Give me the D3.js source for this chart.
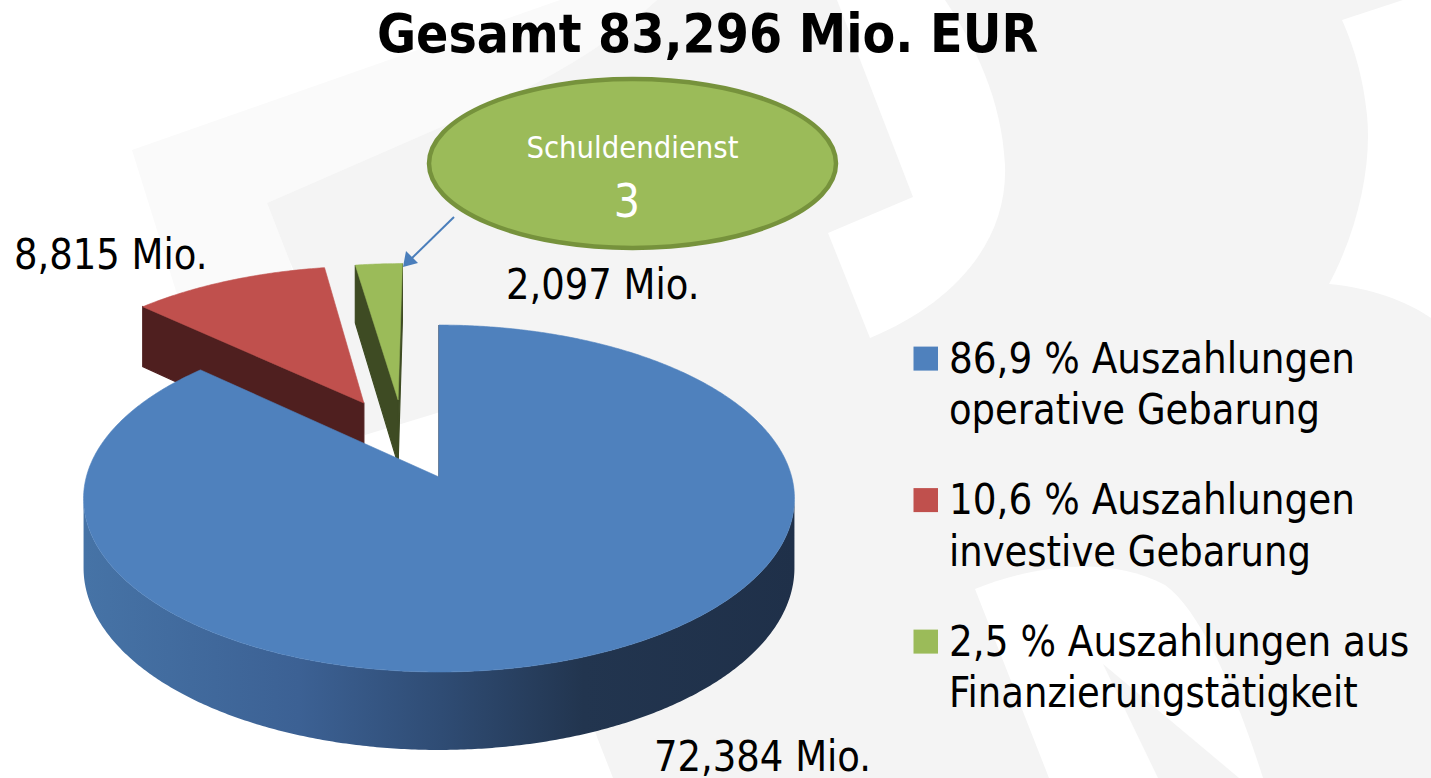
<!DOCTYPE html>
<html>
<head>
<meta charset="utf-8">
<script src="https://cdn.jsdelivr.net/npm/d3@7/dist/d3.min.js"></script>
<style>
  html, body { margin: 0; padding: 0; background: #fff; }
  svg { display: block; }
  text { font-family: "DejaVu Sans", Verdana, sans-serif; }
</style>
</head>
<body>
<svg id="chart" width="1431" height="778"></svg>
<script>
// --- data ---
const categories = [
  ['Auszahlungen', 'operative Gebarung'],
  ['Auszahlungen', 'investive Gebarung'],
  ['Auszahlungen aus', 'Finanzierungstätigkeit']
]
const values = [72.384, 8.815, 2.097] // Mio. EUR
const calloutLines = ['Schuldendienst', '3']

// --- style ---
const colors = ['#4f81bd', '#c0504d', '#9bbb59']
const cutColors = ['#1f3049', '#4f1f1f', '#3e4b23']
const explode = [{ r: 0, dir: 0 }, { r: 0.51, dir: 333.8 }, { r: 0.494, dir: 345.6 }]
const labelAt = [{ x: 654, y: 771 }, { x: 14, y: 269 }, { x: 506, y: 299 }]
const pie3d = { cx: 439, cy: 477, rx: 352.7, ry: 170.8, k: 0.124, h: 68.3 }

const de = d3.formatLocale({ decimal: ',', thousands: '.', grouping: [3], currency: ['', ' €'] })
const fmtMio = de.format('.3f')
const fmtPct = de.format('.1f')
const total = d3.sum(values)

const W = 1431
const H = 778
const svg = d3.select('#chart')

const condense = (sel, ratio) => {
  sel.each(function () {
    const w = this.getComputedTextLength()
    d3.select(this).attr('textLength', w * ratio).attr('lengthAdjust', 'spacingAndGlyphs')
  })
}

// --- background watermark ---
const bg = svg.append('g')
bg.append('rect').attr('width', W).attr('height', H).attr('fill', '#ffffff')
bg.append('path').attr('fill', '#fafafa')
  .attr('d', 'M132,150 L560,0 L657,0 Q590,62 480,110 L267,203 L290,262 L300,300 L185,320 Z')
bg.append('path').attr('fill', '#f4f4f4')
  .attr('d', 'M267,203 L480,110 Q590,62 657,0 L1431,0 L1431,778 L613,778 L597,737 L540,560 L500,394 L437,413 L365,435 L290,262 Z')
const whiteShapes = [
  'M837,0 L913,197 L828,233 L870,338 C950,305 1008,245 1005,165 C1002,100 975,45 945,0 Z',
  'M1342,20 L1403,0 L1431,0 L1431,318 C1405,300 1370,288 1329,284 C1358,230 1372,165 1367,115 C1363,75 1353,45 1342,20 Z',
  'M975,589 C1035,565 1110,555 1165,585 C1200,610 1235,690 1263,778 L1049,778 Z'
]
whiteShapes.forEach((d) => bg.append('path').attr('fill', '#ffffff').attr('d', d))
bg.append('path').attr('fill', '#f4f4f4').attr('d', 'M1103,664 L1158,778 L1239,778 Z')

// --- 3d pie ---
const defs = svg.append('defs')
const grad = defs.append('linearGradient')
  .attr('id', 'sideBlue').attr('gradientUnits', 'userSpaceOnUse')
  .attr('x1', 85).attr('x2', 797).attr('y1', 0).attr('y2', 0)
grad.selectAll('stop')
  .data([[0, '#4673a6'], [0.3, '#3c6194'], [0.5, '#2f4c74'], [0.7, '#22354f'], [1, '#1f3049']])
  .join('stop').attr('offset', (d) => d[0]).attr('stop-color', (d) => d[1])

const proj = (u, v, z) => {
  const s = 1 / (1 - pie3d.k * v)
  return [pie3d.cx + pie3d.rx * u * s, pie3d.cy + (pie3d.ry * v + pie3d.h * z) * s]
}
const line = d3.line()
const camV = 1 / pie3d.k

const arcs = d3.pie().sort(null).value((d) => d)(values)
arcs.forEach((a, i) => {
  const dr = explode[i].dir * Math.PI / 180
  a.ou = explode[i].r * Math.sin(dr)
  a.ov = -explode[i].r * Math.cos(dr)
  a.mid = (a.startAngle + a.endAngle) / 2
  a.depth = a.ov - 0.5 * Math.cos(a.mid)
})

const rim = (a, t, z) => proj(a.ou + Math.sin(t), a.ov - Math.cos(t), z)
const sampleAngles = (a0, a1) => {
  const n = Math.max(2, Math.ceil((a1 - a0) / (Math.PI / 360)))
  return d3.range(n + 1).map((j) => a0 + (a1 - a0) * j / n)
}

const pieG = svg.append('g')
const order = arcs.slice().sort((p, q) => p.depth - q.depth)

order.forEach((a) => {
  const i = a.index
  const g = pieG.append('g')
  const ts = sampleAngles(a.startAngle, a.endAngle)

  // cut faces
  const faces = [
    { t: a.startAngle, n: [-Math.cos(a.startAngle), -Math.sin(a.startAngle)] },
    { t: a.endAngle, n: [Math.cos(a.endAngle), Math.sin(a.endAngle)] }
  ]
  faces.forEach((f) => {
    const dot = f.n[0] * (0 - a.ou) + f.n[1] * (camV - a.ov)
    if (dot < -0.01) return
    const pts = [proj(a.ou, a.ov, 0), rim(a, f.t, 0), rim(a, f.t, 1), proj(a.ou, a.ov, 1)]
    g.append('path').attr('d', line(pts) + 'Z')
      .attr('fill', cutColors[i]).attr('stroke', cutColors[i]).attr('stroke-width', 1.2)
  })

  // outer side, only where it faces the camera
  const vis = ts.map((t) => -1 - Math.sin(t) * a.ou + Math.cos(t) * (a.ov - camV) > 0)
  let run = []
  const runs = []
  ts.forEach((t, j) => {
    if (vis[j]) run.push(t)
    else if (run.length) { runs.push(run); run = [] }
  })
  if (run.length) runs.push(run)
  runs.forEach((r) => {
    const pts = r.map((t) => rim(a, t, 0)).concat(r.slice().reverse().map((t) => rim(a, t, 1)))
    g.append('path').attr('d', line(pts) + 'Z')
      .attr('fill', i === 0 ? 'url(#sideBlue)' : cutColors[i])
  })

  // top face
  const top = [proj(a.ou, a.ov, 0)].concat(ts.map((t) => rim(a, t, 0)))
  g.append('path').attr('d', line(top) + 'Z')
    .attr('fill', colors[i]).attr('stroke', colors[i]).attr('stroke-width', 0.6)
})

// --- value labels ---
svg.append('g').selectAll('text')
  .data(arcs)
  .join('text')
  .attr('x', (d) => labelAt[d.index].x)
  .attr('y', (d) => labelAt[d.index].y)
  .attr('font-size', 43)
  .attr('fill', '#000')
  .text((d) => fmtMio(d.value) + ' Mio.')
  .call(condense, 0.86)

// --- title ---
svg.append('text')
  .attr('x', 707.5).attr('y', 52)
  .attr('text-anchor', 'middle')
  .attr('font-size', 53).attr('font-weight', 'bold')
  .text('Gesamt ' + fmtMio(total) + ' Mio. EUR')
  .call(condense, 0.9)

// --- callout ---
const co = svg.append('g')
co.append('line')
  .attr('x1', 454).attr('y1', 217).attr('x2', 410).attr('y2', 260)
  .attr('stroke', '#4a7ebb').attr('stroke-width', 2)
co.append('path')
  .attr('d', 'M403,267 L406,251 L418,263 Z')
  .attr('fill', '#4a7ebb')
co.append('ellipse')
  .attr('cx', 632.5).attr('cy', 163.5).attr('rx', 203.5).attr('ry', 84.5)
  .attr('fill', '#9bbb59').attr('stroke', '#76923c').attr('stroke-width', 4.5)
co.append('text')
  .attr('x', 632.5).attr('y', 158).attr('text-anchor', 'middle')
  .attr('font-size', 31).attr('fill', '#fff')
  .text(calloutLines[0])
  .call(condense, 0.89)
co.append('text')
  .attr('x', 627).attr('y', 217).attr('text-anchor', 'middle')
  .attr('font-size', 47).attr('fill', '#fff')
  .text(calloutLines[1])
  .call(condense, 0.88)

// --- legend ---
const legend = svg.append('g').attr('transform', 'translate(913.5,372.6)')
const item = legend.selectAll('g')
  .data(categories)
  .join('g')
  .attr('transform', (d, i) => `translate(0,${i * 141.5})`)
item.append('rect')
  .attr('x', 0).attr('y', -26).attr('width', 24.5).attr('height', 24)
  .attr('fill', (d, i) => colors[i])
item.append('text')
  .attr('x', 35.5).attr('y', 0)
  .attr('font-size', 43)
  .text((d, i) => fmtPct(values[i] / total * 100) + ' % ' + d[0])
  .call(condense, 0.87)
item.append('text')
  .attr('x', 35.5).attr('y', 51.6)
  .attr('font-size', 43)
  .text((d) => d[1])
  .call(condense, 0.86)
</script>
</body>
</html>
